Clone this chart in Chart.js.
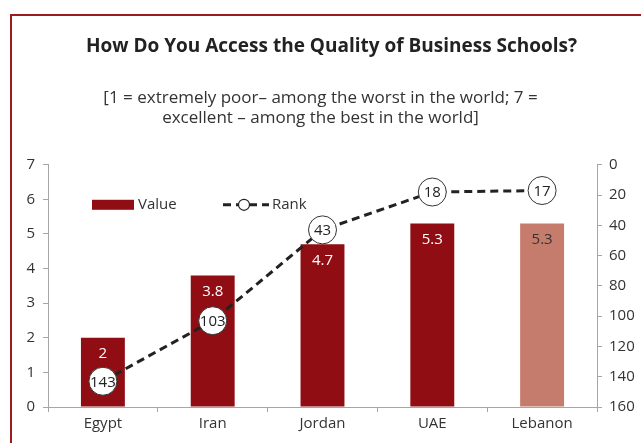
<!DOCTYPE html>
<html>
<head>
<meta charset="utf-8">
<script src="https://cdn.jsdelivr.net/npm/chart.js@4"></script>
<style>
  html, body { margin: 0; padding: 0; background: #fff; }
  #wrap { position: relative; width: 641px; height: 443px; }
  #frame {
    position: absolute; left: 10px; top: 14px; right: 0; bottom: 0;
    border-top: 2px solid #9b1b1e; border-left: 2px solid #9b1b1e;
  }
  canvas { position: absolute; left: 0; top: 0; }
</style>
</head>
<body>
<div id="wrap">
  <div id="frame"></div>
  <canvas id="chart" width="641" height="443"></canvas>
</div>
<script>
const countries = ['Egypt', 'Iran', 'Jordan', 'UAE', 'Lebanon'];
const scores = [2, 3.8, 4.7, 5.3, 5.3];
const ranks = [143, 103, 43, 18, 17];
const barColors = ['#900d14', '#900d14', '#900d14', '#900d14', '#c57c6c'];
const scoreLabelColors = ['#fff', '#fff', '#fff', '#fff', '#333'];

const FONT = '"Open Sans", Lato, sans-serif';
const AXIS = '#a6a6a6';

// nudge the title a bit to the right of the canvas centre
const titleShift = {
    id: 'titleShift',
    afterLayout(chart) {
        if (chart.titleBlock) {
            chart.titleBlock.left += 11;
            chart.titleBlock.right += 11;
        }
    }
};

// value labels inside bars, rank numbers inside the circles, plus the legend
const labelsPlugin = {
    id: 'labels',
    afterDatasetsDraw(chart) {
        const ctx = chart.ctx;
        ctx.save();
        ctx.textAlign = 'center';
        ctx.textBaseline = 'middle';
        ctx.font = '15px ' + FONT;

        // dataset 1 = bars
        chart.getDatasetMeta(1).data.forEach((bar, i) => {
            ctx.fillStyle = scoreLabelColors[i];
            ctx.fillText(String(scores[i]), bar.x, bar.y + 16);
        });

        // dataset 0 = rank line
        chart.getDatasetMeta(0).data.forEach((pt, i) => {
            ctx.fillStyle = '#222';
            ctx.fillText(String(ranks[i]), pt.x, pt.y + 1);
        });

        // legend
        const area = chart.chartArea;
        const ly = area.top + 40;
        const lx = area.left + 44;
        ctx.fillStyle = barColors[0];
        ctx.fillRect(lx, ly - 5, 42, 10);
        ctx.fillStyle = '#333';
        ctx.textAlign = 'left';
        ctx.fillText('Value', lx + 46, ly);

        const rx = lx + 131;
        ctx.strokeStyle = '#222';
        ctx.lineWidth = 3;
        ctx.setLineDash([8, 5]);
        ctx.beginPath();
        ctx.moveTo(rx, ly);
        ctx.lineTo(rx + 46, ly);
        ctx.stroke();
        ctx.setLineDash([]);
        ctx.beginPath();
        ctx.arc(rx + 21, ly, 5.5, 0, Math.PI * 2);
        ctx.fillStyle = '#fff';
        ctx.fill();
        ctx.lineWidth = 1.2;
        ctx.stroke();
        ctx.fillStyle = '#333';
        ctx.fillText('Rank', rx + 49, ly);
        ctx.restore();
    }
};

new Chart(document.getElementById('chart'), {
    data: {
        labels: countries,
        datasets: [
            {
                type: 'line',
                label: 'Rank',
                data: ranks,
                yAxisID: 'yRank',
                borderColor: '#222',
                borderWidth: 3,
                borderDash: [8, 5],
                pointRadius: 14,
                pointHoverRadius: 14,
                pointBackgroundColor: '#fff',
                pointBorderColor: '#333',
                pointBorderWidth: 1,
                tension: 0,
                order: 0
            },
            {
                type: 'bar',
                label: 'Value',
                data: scores,
                yAxisID: 'y',
                backgroundColor: barColors,
                barPercentage: 0.4,
                categoryPercentage: 1,
                order: 1
            }
        ]
    },
    options: {
        responsive: false,
        animation: false,
        layout: { padding: 0 },
        plugins: {
            legend: { display: false },
            tooltip: { enabled: false },
            title: {
                display: true,
                text: 'How Do You Access the Quality of Business Schools?',
                color: '#222',
                font: { family: FONT, size: 19, weight: 'bold', lineHeight: 1.2 },
                padding: { top: 35, bottom: 30 }
            },
            subtitle: {
                display: true,
                text: ['[1 = extremely poor– among the worst in the world; 7 =', 'excellent – among the best in the world]'],
                color: '#333',
                font: { family: FONT, size: 17, lineHeight: 1.176 },
                padding: { top: 0, bottom: 37 }
            }
        },
        scales: {
            x: {
                offset: true,
                grid: { display: true, offset: true, drawOnChartArea: false, color: AXIS, tickLength: 5 },
                border: { color: AXIS },
                ticks: { color: '#333', font: { family: FONT, size: 15 }, padding: 3 },
                afterFit: s => { s.height = 36; }
            },
            y: {
                position: 'left',
                min: 0,
                max: 7,
                ticks: { stepSize: 1, color: '#333', font: { family: FONT, size: 15 }, padding: 8 },
                grid: { display: true, drawOnChartArea: false, color: AXIS, tickLength: 5 },
                border: { color: AXIS },
                afterFit: s => { s.width = 48; }
            },
            yRank: {
                position: 'right',
                reverse: true,
                min: 0,
                max: 160,
                ticks: { stepSize: 20, color: '#333', font: { family: FONT, size: 15 }, padding: 7 },
                grid: { display: true, drawOnChartArea: false, color: AXIS, tickLength: 5 },
                border: { color: AXIS },
                afterFit: s => { s.width = 44; }
            }
        }
    },
    plugins: [titleShift, labelsPlugin]
});
</script>
</body>
</html>
